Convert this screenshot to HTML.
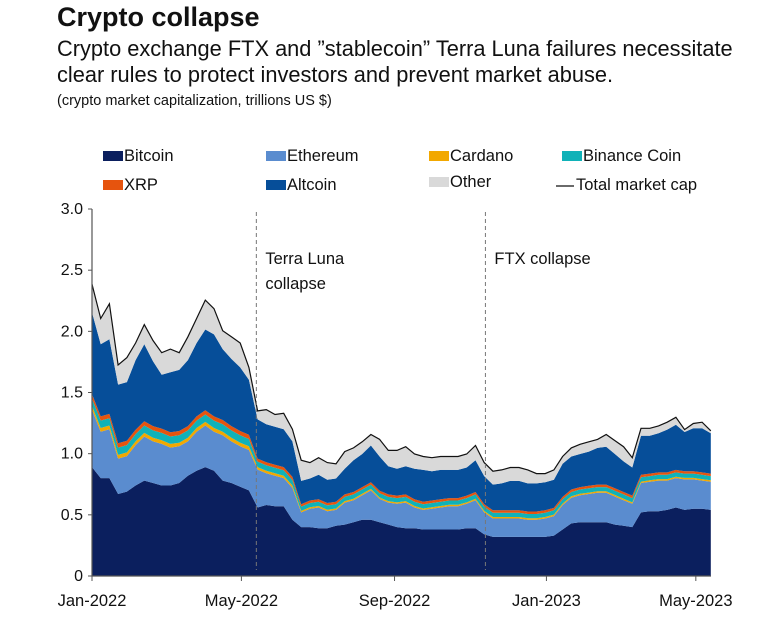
<!DOCTYPE html>
<html><head><meta charset="utf-8"><style>
body{margin:0;background:#fff;font-family:"Liberation Sans",sans-serif;}
svg text{font-family:"Liberation Sans",sans-serif;fill:#111;}
</style></head><body>
<svg width="768" height="622" viewBox="0 0 768 622">
<text x="57" y="26" font-size="27" font-weight="bold">Crypto collapse</text>
<text x="57" y="56" font-size="21.8">Crypto exchange FTX and ”stablecoin” Terra Luna failures necessitate</text>
<text x="57" y="82" font-size="21.8">clear rules to protect investors and prevent market abuse.</text>
<text x="57" y="105" font-size="14.5">(crypto market capitalization, trillions US $)</text>
<g id="legend"></g>
<g id="areas"></g>
<g id="axes"></g>
</svg>
<script>
const bitcoin=[.89,.80,.80,.67,.69,.74,.78,.76,.74,.74,.76,.82,.86,.89,.86,.78,.76,.73,.70,.56,.58,.57,.57,.46,.40,.40,.39,.39,.41,.42,.44,.46,.46,.44,.42,.40,.39,.39,.38,.38,.38,.38,.38,.39,.39,.34,.32,.32,.32,.32,.32,.32,.32,.33,.38,.43,.44,.44,.44,.44,.42,.41,.40,.52,.53,.53,.54,.56,.54,.55,.55,.54];
const ethereum=[.47,.38,.40,.29,.29,.33,.36,.34,.34,.31,.30,.28,.32,.34,.32,.37,.34,.33,.33,.31,.26,.25,.23,.26,.12,.15,.17,.14,.13,.18,.18,.20,.24,.19,.18,.19,.21,.17,.16,.17,.18,.19,.19,.20,.23,.18,.15,.15,.15,.15,.14,.14,.15,.16,.20,.21,.22,.23,.24,.24,.23,.21,.19,.24,.24,.25,.24,.24,.25,.24,.23,.23];
const cardano=[.03,.03,.03,.03,.03,.03,.03,.03,.03,.03,.03,.03,.03,.03,.03,.03,.03,.03,.03,.02,.02,.02,.02,.02,.012,.012,.012,.012,.012,.012,.012,.012,.012,.012,.012,.012,.012,.012,.012,.012,.012,.012,.012,.012,.012,.012,.012,.012,.012,.012,.012,.012,.012,.012,.012,.012,.012,.012,.012,.012,.012,.012,.012,.012,.012,.012,.012,.012,.012,.012,.012,.012];
const binance=[.06,.06,.06,.06,.06,.06,.06,.06,.06,.06,.06,.06,.06,.06,.06,.06,.06,.06,.06,.045,.045,.045,.045,.045,.035,.035,.035,.035,.035,.035,.035,.035,.035,.035,.035,.035,.035,.035,.035,.035,.035,.035,.035,.035,.035,.035,.035,.035,.035,.035,.035,.035,.035,.035,.035,.035,.035,.035,.035,.035,.035,.035,.035,.035,.035,.035,.035,.035,.035,.035,.035,.035];
const xrp=[.035,.035,.035,.035,.035,.035,.035,.035,.035,.035,.035,.035,.035,.035,.035,.035,.035,.035,.035,.025,.025,.025,.025,.025,.02,.02,.02,.02,.02,.02,.02,.02,.02,.02,.02,.02,.02,.02,.02,.02,.02,.02,.02,.02,.02,.02,.02,.02,.02,.02,.02,.02,.02,.02,.02,.02,.02,.02,.02,.02,.02,.02,.02,.02,.02,.02,.02,.02,.02,.02,.02,.02];
const altcoin=[.67,.59,.61,.48,.48,.57,.63,.53,.44,.49,.50,.54,.60,.66,.67,.58,.55,.52,.45,.32,.31,.31,.31,.29,.19,.18,.20,.19,.19,.21,.26,.27,.30,.28,.23,.22,.23,.25,.26,.24,.24,.23,.23,.23,.26,.23,.21,.22,.24,.24,.23,.23,.23,.23,.27,.27,.27,.28,.30,.31,.28,.25,.23,.32,.31,.32,.35,.37,.32,.35,.36,.33];
const other=[.23,.21,.29,.16,.20,.14,.16,.17,.18,.19,.14,.19,.20,.24,.21,.15,.18,.20,.10,.07,.12,.10,.13,.10,.17,.13,.14,.14,.12,.14,.10,.10,.09,.14,.13,.15,.16,.12,.11,.11,.11,.11,.11,.11,.12,.11,.11,.11,.11,.11,.11,.08,.07,.08,.06,.07,.08,.08,.07,.10,.11,.12,.08,.06,.06,.06,.06,.06,.02,.04,.05,.02];
const yTicks=[0,0.5,1.0,1.5,2.0,2.5,3.0];
const xTickLabels=["Jan-2022","May-2022","Sep-2022","Jan-2023","May-2023"];
const xTickDays=[0,120,243,365,485];
const events=["Terra Luna collapse","FTX collapse"];
const eventDays=[132,316];

const NS="http://www.w3.org/2000/svg";
const X0=92,PXD=1.245,Y0=576,PXU=122.33;
const xd=d=>X0+d*PXD;
const xi=i=>xd(i*7);
const y=v=>Y0-v*PXU;
function mk(tag,attrs,parent){const e=document.createElementNS(NS,tag);for(const k in attrs)e.setAttribute(k,attrs[k]);parent.appendChild(e);return e;}

const series=[["bitcoin",bitcoin,"#0b1f5e"],["ethereum",ethereum,"#5a8ccf"],["cardano",cardano,"#f2a800"],["binance-coin",binance,"#10b2b8"],["xrp",xrp,"#e6540e"],["altcoin",altcoin,"#064e99"],["other",other,"#d9d9d9"]];
const areas=document.getElementById('areas');
const n=bitcoin.length;
let base=new Array(n).fill(0);
series.forEach(([name,vals,col])=>{
  const top=base.map((b,i)=>b+Math.max(0,vals[i]));
  let d="M"+xi(0)+","+y(top[0]);
  for(let i=1;i<n;i++)d+="L"+xi(i).toFixed(1)+","+y(top[i]).toFixed(1);
  for(let i=n-1;i>=0;i--)d+="L"+xi(i).toFixed(1)+","+y(base[i]).toFixed(1);
  const p=mk('path',{d:d+"Z",fill:col},areas);
  
  
  base=top;
});
let ld="";
base.forEach((v,i)=>{ld+=(i?"L":"M")+xi(i).toFixed(1)+","+y(v).toFixed(1);});
const tl=mk('path',{d:ld,fill:"none",stroke:"#111","stroke-width":1.2},areas);



const axes=document.getElementById('axes');
mk('line',{x1:X0,y1:y(3),x2:X0,y2:Y0,stroke:"#555","stroke-width":1.2},axes);
mk('line',{x1:X0,y1:Y0,x2:711,y2:Y0,stroke:"#555","stroke-width":1.2},axes);
yTicks.forEach(t=>{
  mk('line',{x1:X0-4,y1:y(t),x2:X0,y2:y(t),stroke:"#555"},axes);
  const tx=mk('text',{x:X0-9,y:y(t)+5,"font-size":16,"text-anchor":"end"},axes);
  tx.textContent=t.toFixed(1).replace(/^0\.0$/,"0");
  
  
});
xTickLabels.forEach((l,i)=>{
  const xx=xd(xTickDays[i]);
  mk('line',{x1:xx,y1:Y0,x2:xx,y2:Y0+5,stroke:"#555"},axes);
  const tx=mk('text',{x:xx,y:606,"font-size":16.5,"text-anchor":"middle"},axes);
  tx.textContent=l;
  
  
});
events.forEach((ev,i)=>{
  const xx=xd(eventDays[i]);
  const ln=mk('line',{x1:xx,y1:212,x2:xx,y2:570,stroke:"#777","stroke-dasharray":"4,3"},axes);
  
  
  const words=i===0?["Terra Luna","collapse"]:["FTX collapse"];
  words.forEach((w,j)=>{
    const tx=mk('text',{x:xx+9,y:264+j*25,"font-size":16.5},axes);
    tx.textContent=w;
    
    
  });
});
const legend=document.getElementById('legend');
const legItems=[["Bitcoin","#0b1f5e",103,155],["Ethereum","#5a8ccf",266,155],["Cardano","#f2a800",429,155],["Binance Coin","#10b2b8",562,155],["XRP","#e6540e",103,184],["Altcoin","#064e99",266,184],["Other","#d9d9d9",429,181]];
legItems.forEach(([l,c,lx,ly])=>{
  const r=mk('rect',{x:lx,y:ly-4,width:20,height:10,fill:c},legend);
  
  
  const tx=mk('text',{x:lx+21,y:ly+6,"font-size":16.5},legend);
  tx.textContent=l;
  
  
});
const ll=mk('line',{x1:556,y1:186,x2:574,y2:186,stroke:"#111","stroke-width":1.3},legend);


const lt=mk('text',{x:576,y:190,"font-size":16.5},legend);
lt.textContent="Total market cap";


</script>
</body></html>
